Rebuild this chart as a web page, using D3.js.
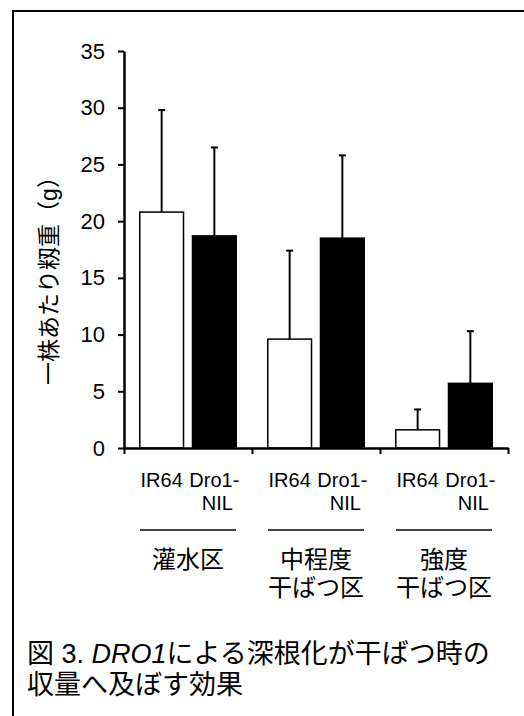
<!DOCTYPE html>
<html>
<head>
<meta charset="utf-8">
<script src="https://cdn.jsdelivr.net/npm/d3@7"></script>
<style>
  body { margin: 0; background: #fff; }
  svg { display: block; }
  text { font-family: "Liberation Sans", Arial, "Noto Sans CJK JP", sans-serif; fill: #000; }
  .it { font-style: italic; }
</style>
</head>
<body>
<div id="chart"></div>
<script>
// data
var groups = ['灌水区', '中程度干ばつ区', '強度干ばつ区'];
var groupLabels = [['灌水区'], ['中程度', '干ばつ区'], ['強度', '干ばつ区']];
var lines = ['IR64', 'Dro1-NIL'];
var lineLabels = [['IR64'], ['Dro1-', 'NIL']];
var ir64Values = [20.8, 9.6, 1.6];
var ir64Errors = [9.0, 7.8, 1.8];
var nilValues = [18.7, 18.5, 5.7];
var nilErrors = [7.8, 7.3, 4.6];
var yTicks = [0, 5, 10, 15, 20, 25, 30, 35];
var yLabel = '一株あたり籾重（g）';
var captionLines = [['図 3. ', 'DRO1', 'による深根化が干ばつ時の'], ['収量へ及ぼす効果']];

var w = 524, h = 716;
var svg = d3.select('#chart').append('svg')
  .attr('width', w)
  .attr('height', h);

// frame (only top and left edges show)
svg.append('path')
  .attr('d', 'M13,716V11H524')
  .attr('fill', 'none')
  .attr('stroke', '#000')
  .attr('stroke-width', 2);

// scales
var x = d3.scaleBand().domain(groups).range([124, 508]).padding(0);
var xSub = d3.scaleBand().domain(lines).range([0, x.bandwidth()])
  .paddingInner(0.17).paddingOuter(0.3);
var y = d3.scaleLinear().domain([0, 35]).range([448, 51]);

var rows = groups.map(function(g, i) {
  return [
    { group: g, line: lines[0], v: ir64Values[i], e: ir64Errors[i] },
    { group: g, line: lines[1], v: nilValues[i], e: nilErrors[i] }
  ];
});
var bars = d3.merge(rows);
function cx(d) { return x(d.group) + xSub(d.line) + xSub.bandwidth()/2; }

// error bars first (bar covers lower part)
var eb = svg.append('g').attr('id', 'errors').selectAll('g').data(bars).enter().append('g');
eb.append('line')
  .attr('x1', cx).attr('x2', cx)
  .attr('y1', function(d) { return y(d.v); })
  .attr('y2', function(d) { return y(d.v + d.e); })
  .attr('stroke', '#000').attr('stroke-width', 2);
eb.append('line')
  .attr('x1', function(d) { return cx(d) - 3.5; })
  .attr('x2', function(d) { return cx(d) + 3.5; })
  .attr('y1', function(d) { return y(d.v + d.e); })
  .attr('y2', function(d) { return y(d.v + d.e); })
  .attr('stroke', '#000').attr('stroke-width', 2);

// bars
svg.append('g').attr('id', 'bars').selectAll('rect').data(bars).enter().append('rect')
  .attr('x', function(d) { return x(d.group) + xSub(d.line); })
  .attr('y', function(d) { return y(d.v); })
  .attr('width', xSub.bandwidth())
  .attr('height', function(d) { return y(0) - y(d.v); })
  .attr('fill', function(d) { return d.line === 'IR64' ? '#fff' : '#000'; })
  .attr('stroke', '#000')
  .attr('stroke-width', 1.5);

// y axis
var yAxis = d3.axisLeft(y).tickValues(yTicks).tickSize(6).tickSizeOuter(0).tickPadding(13);
var gy = svg.append('g').attr('transform', 'translate(124,0)').call(yAxis);
gy.select('.domain').attr('stroke-width', 2.5);
gy.selectAll('.tick line').attr('stroke-width', 2);
gy.selectAll('.tick text').attr('font-size', 22);

// x axis: ticks at group boundaries
var xAxis = d3.axisBottom(d3.scaleLinear().domain([0, 3]).range(x.range()))
  .tickValues([0, 1, 2, 3]).tickSize(6).tickSizeOuter(0).tickFormat('');
var gx = svg.append('g').attr('transform', 'translate(0,' + y(0) + ')').call(xAxis);
gx.select('.domain').attr('stroke-width', 2.5);
gx.selectAll('.tick line').attr('stroke-width', 2);

// line names under each bar
var gl = svg.append('g').attr('id', 'line-labels');
groups.forEach(function(g) {
  lines.forEach(function(l, j) {
    var c = cx({ group: g, line: l });
    lineLabels[j].forEach(function(t, k) {
      gl.append('text')
        .attr('x', c + (k > 0 ? 3 : 0))
        .attr('y', 487 + k * 22.5)
        .attr('text-anchor', 'middle')
        .attr('font-size', 20)
        .text(t);
    });
  });
});

// group separators and names
var gg = svg.append('g').attr('id', 'group-labels');
groups.forEach(function(g, i) {
  var c = x(g) + x.bandwidth()/2;
  gg.append('line')
    .attr('x1', c - 48).attr('x2', c + 48)
    .attr('y1', 530).attr('y2', 530)
    .attr('stroke', '#000').attr('stroke-width', 1.5);
  groupLabels[i].forEach(function(t, k) {
    gg.append('text')
      .attr('x', c)
      .attr('y', 568 + k * 28)
      .attr('text-anchor', 'middle')
      .attr('font-size', 24)
      .text(t);
  });
});

// y label
svg.append('text')
  .attr('transform', 'translate(57,' + 275 + ') rotate(-90)')
  .attr('text-anchor', 'middle')
  .attr('font-size', 23)
  .text(yLabel);

// caption
captionLines.forEach(function(parts, i) {
  var t = svg.append('text')
    .attr('x', 27)
    .attr('y', 663 + i * 30.5)
    .attr('font-size', 27);
  parts.forEach(function(p) {
    t.append('tspan').attr('class', p === 'DRO1' ? 'it' : null).text(p);
  });
});
</script>
</body>
</html>
